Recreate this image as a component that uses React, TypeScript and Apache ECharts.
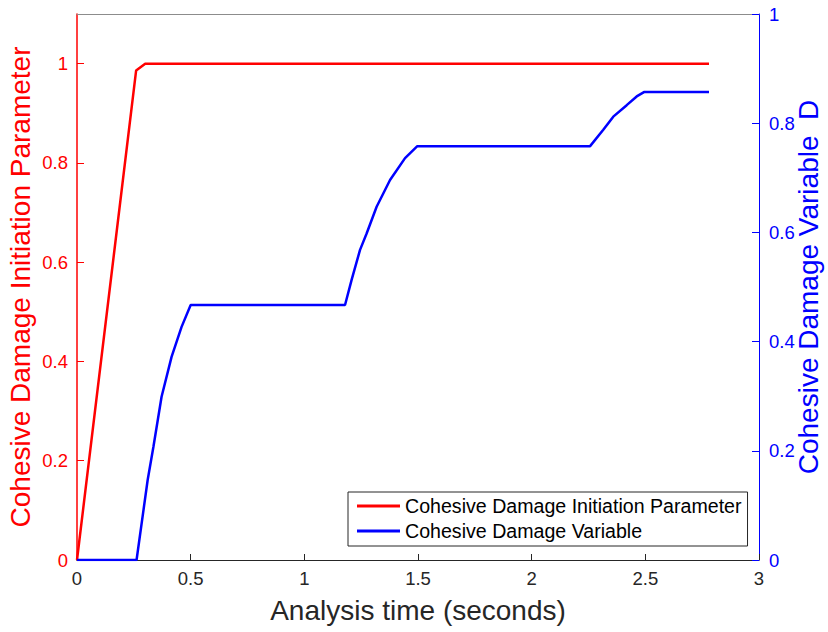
import React, { useEffect, useRef } from "react";
import * as echarts from "echarts";

// Initiation parameter (left axis) over analysis time
const initTime = [0, 0.26, 0.3, 2.78];
const initValue = [0, 0.986, 1, 1];

// Damage variable D (right axis) over analysis time
const damageTime = [
  0, 0.262, 0.311, 0.336, 0.372, 0.416, 0.46, 0.5, 1.179, 1.208, 1.245, 1.274,
  1.318, 1.377, 1.443, 1.497, 2.257, 2.315, 2.359, 2.418, 2.462, 2.494, 2.78,
];
const damageValue = [
  0, 0, 0.147, 0.207, 0.299, 0.372, 0.427, 0.467, 0.467, 0.513, 0.568, 0.598,
  0.647, 0.696, 0.736, 0.758, 0.758, 0.788, 0.812, 0.833, 0.849, 0.857, 0.857,
];

// Left axis runs to 1.1 but is only marked up to 1
const leftTickValues = [0, 0.2, 0.4, 0.6, 0.8, 1];

const FONT = "'Liberation Sans', Arial, Helvetica, sans-serif";
const RED = "#ff0000";
const BLUE = "#0000ff";
const DARK = "#262626";

const fmt = (v: number) => String(Math.round(v * 10) / 10);

export default function App() {
  const ref = useRef<HTMLDivElement>(null);

  useEffect(() => {
    if (!ref.current) return;
    const chart = echarts.init(ref.current, null, { renderer: "svg" });
    const zip = (xs: number[], ys: number[]) => xs.map((x, i) => [x, ys[i]]);

    chart.setOption({
      animation: false,
      backgroundColor: "#ffffff",
      textStyle: { fontFamily: FONT },
      grid: { left: 77, right: 69, top: 14, bottom: 72, containLabel: false, outerBoundsMode: "none" },
      legend: {
        orient: "vertical",
        left: 348,
        top: 492,
        backgroundColor: "#ffffff",
        borderColor: DARK,
        borderWidth: 1,
        padding: [4, 6, 5, 9],
        icon: "rect",
        itemWidth: 43,
        itemHeight: 3,
        itemGap: 5,
        textStyle: { fontSize: 19.6, color: "#000000", fontFamily: FONT, lineHeight: 20 },
        data: ["Cohesive Damage Initiation Parameter", "Cohesive Damage Variable"],
      },
      xAxis: [
        {
          type: "value",
          min: 0,
          max: 3,
          interval: 0.5,
          name: "Analysis time (seconds)",
          nameLocation: "middle",
          nameGap: 36,
          nameMoveOverlap: false,
          nameTextStyle: { fontSize: 28, color: DARK, fontFamily: FONT },
          axisLine: { onZero: false, lineStyle: { color: DARK, width: 1 } },
          axisTick: { inside: true, length: 6, lineStyle: { color: DARK } },
          axisLabel: { fontSize: 18.5, color: DARK, margin: 9, fontFamily: FONT, formatter: fmt },
          splitLine: { show: false },
        },
        {
          type: "value",
          position: "top",
          min: 0,
          max: 3,
          axisLine: { show: true, onZero: false, lineStyle: { color: "#8c8c8c", width: 1 } },
          axisTick: { show: false },
          axisLabel: { show: false },
          splitLine: { show: false },
        },
      ],
      yAxis: [
        {
          type: "value",
          position: "left",
          min: 0,
          max: 1.1,
          interval: 0.2,
          name: "Cohesive Damage Initiation Parameter",
          nameLocation: "middle",
          nameGap: 43,
          nameMoveOverlap: false,
          nameTextStyle: { fontSize: 28, color: RED, fontFamily: FONT },
          axisLine: { show: true, onZero: false, lineStyle: { color: RED, width: 1.5 } },
          axisTick: { show: true, inside: true, length: 7, lineStyle: { color: RED }, customValues: leftTickValues },
          axisLabel: {
            fontSize: 18.5,
            color: RED,
            margin: 9,
            fontFamily: FONT,
            customValues: leftTickValues,
            formatter: (v: number) => (v > 1.05 ? "" : fmt(v)),
          },
          splitLine: { show: false },
        },
        {
          type: "value",
          position: "right",
          min: 0,
          max: 1,
          interval: 0.2,
          name: "Cohesive Damage Variable  D",
          nameLocation: "middle",
          nameGap: 35,
          nameRotate: 90,
          nameMoveOverlap: false,
          nameTextStyle: { fontSize: 28, color: BLUE, fontFamily: FONT },
          axisLine: { show: true, onZero: false, lineStyle: { color: BLUE, width: 1 } },
          axisTick: { show: true, inside: true, length: 7, lineStyle: { color: BLUE } },
          axisLabel: { fontSize: 18.5, color: BLUE, margin: 10, fontFamily: FONT, formatter: fmt },
          splitLine: { show: false },
        },
      ],
      series: [
        {
          name: "Cohesive Damage Initiation Parameter",
          type: "line",
          xAxisIndex: 0,
          yAxisIndex: 0,
          symbol: "none",
          lineStyle: { color: RED, width: 2.5 },
          itemStyle: { color: RED },
          data: zip(initTime, initValue),
        },
        {
          name: "Cohesive Damage Variable",
          type: "line",
          xAxisIndex: 0,
          yAxisIndex: 1,
          symbol: "none",
          lineStyle: { color: BLUE, width: 2.5 },
          itemStyle: { color: BLUE },
          data: zip(damageTime, damageValue),
        },
      ],
    });

    return () => chart.dispose();
  }, []);

  return (
    <div
      ref={ref}
      style={{ position: "fixed", left: 0, top: 0, width: 828, height: 632, background: "#ffffff" }}
    />
  );
}
